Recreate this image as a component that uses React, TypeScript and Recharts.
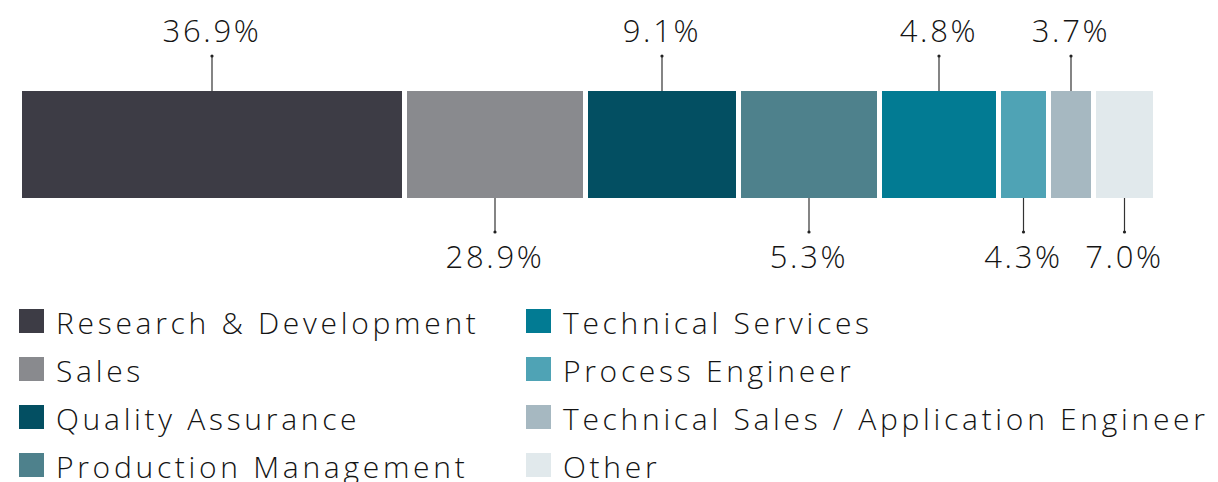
import React from 'react';
import { BarChart, Bar, XAxis, YAxis } from 'recharts';

const categories = [
  'Research & Development',
  'Sales',
  'Quality Assurance',
  'Production Management',
  'Technical Services',
  'Process Engineer',
  'Technical Sales / Application Engineer',
  'Other',
];
const shareLabels = ['36.9%', '28.9%', '9.1%', '5.3%', '4.8%', '4.3%', '3.7%', '7.0%'];
// relative drawn width of each segment
const segmentWidths = [38.5, 18.1, 15.3, 14.1, 11.9, 5.0, 4.5, 6.2];
const colors = ['#3d3c45', '#898a8e', '#034f62', '#4e818c', '#027b93', '#4fa3b5', '#a6b8c1', '#e1e9ec'];
const labelAbove = [true, false, true, false, true, false, true, false];

const keys = categories.map((_, i) => `s${i}`);
const row: Record<string, any> = { name: 'all' };
keys.forEach((k, i) => {
  row[k] = segmentWidths[i];
});
const data = [row];
const total = segmentWidths.reduce((a, b) => a + b, 0);

const GAP = 5;
const FONT = "'Open Sans', sans-serif";
const TEXT = '#141414';

const makeShape = (i: number) => (props: any) => {
  const { x, y, width, height } = props;
  const w = Math.max(width - GAP, 0);
  const cx = x + w / 2;
  const above = labelAbove[i];
  const y1 = above ? y : y + height;
  const y2 = above ? y - 35 : y + height + 34;
  const ty = above ? y - 49 : y + height + 70;
  return (
    <g>
      <rect x={x} y={y} width={w} height={height} fill={colors[i]} />
      <line x1={cx} y1={y1} x2={cx} y2={y2} stroke="#333" strokeWidth={1.2} />
      <circle cx={cx} cy={y2} r={1.6} fill="#222" />
      <text
        x={cx}
        y={ty}
        textAnchor="middle"
        fontFamily={FONT}
        fontSize={31}
        fontWeight={300}
        letterSpacing={2.7}
        fill={TEXT}
      >
        {shareLabels[i]}
      </text>
    </g>
  );
};

export default function App() {
  const rowsPerCol = 4;
  return (
    <div style={{ position: 'relative', width: 1210, height: 474 }}>
      <BarChart
        width={1210}
        height={290}
        data={data}
        layout="vertical"
        margin={{ top: 83, right: 60, bottom: 100, left: 14 }}
        barCategoryGap={0}
      >
        <XAxis type="number" hide domain={[0, total]} />
        <YAxis type="category" dataKey="name" hide />
        {keys.map((k, i) => (
          <Bar
            key={k}
            dataKey={k}
            stackId="a"
            fill={colors[i]}
            isAnimationActive={false}
            shape={makeShape(i)}
          />
        ))}
      </BarChart>
      {categories.map((c, i) => {
        const col = Math.floor(i / rowsPerCol);
        const r = i % rowsPerCol;
        return (
          <div
            key={c}
            style={{
              position: 'absolute',
              left: col === 0 ? 11 : 518,
              top: 301 + r * 48,
              height: 24,
              display: 'flex',
              alignItems: 'center',
              whiteSpace: 'nowrap',
            }}
          >
            <div style={{ width: 25, height: 24, background: colors[i], flex: 'none' }} />
            <span
              style={{
                marginLeft: 12,
                fontFamily: FONT,
                fontSize: 30,
                fontWeight: 300,
                letterSpacing: 3.7,
                color: TEXT,
                lineHeight: '24px',
                position: 'relative',
                top: 2,
              }}
            >
              {c}
            </span>
          </div>
        );
      })}
    </div>
  );
}
